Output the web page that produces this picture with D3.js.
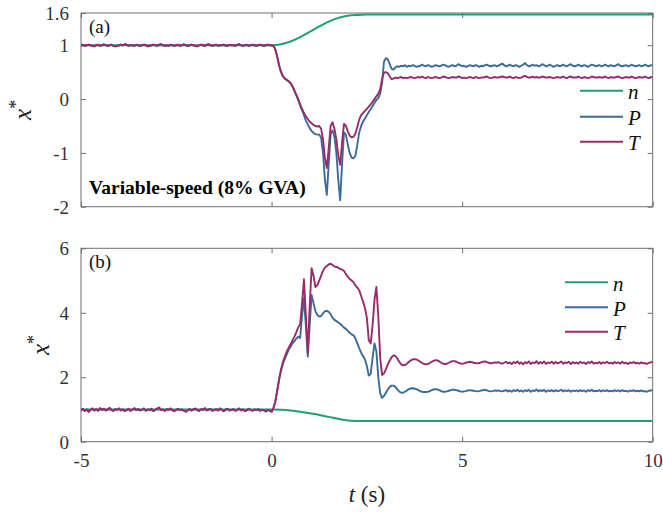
<!DOCTYPE html>
<html lang="en"><head><meta charset="utf-8">
<script src="https://cdn.jsdelivr.net/npm/d3@7"></script>
</head><body style="margin:0;background:#fff"><svg id="c" width="663" height="513" style="display:block;font-family:'Liberation Serif'"></svg>
<script>
// ---------- DATA ----------
const tStart = -5, tStep = 0.05, nSamples = 301;
const xTicks = [-5, 0, 5, 10];
const xTickLabels = ["-5", "0", "5", "10"];
const yTicksA = [-2, -1, 0, 1, 1.6];
const yTickLabelsA = ["-2", "-1", "0", "1", "1.6"];
const yTicksB = [0, 2, 4, 6];
const yTickLabelsB = ["0", "2", "4", "6"];
const seriesNames = ["n", "P", "T"];
const seriesColors = ["#1f9e78", "#3a6b9b", "#972c67"];

const preA = [1.00,1.01,0.99,1.00,1.01,1.00,0.99,0.98,1.00,1.01,
0.99,1.00,1.02,1.00,0.99,1.00,1.01,0.99,0.98,0.99,
1.00,1.01,1.00,1.02,1.01,0.99,1.00,1.00,0.99,1.01,
1.00,0.99,1.00,1.01,1.00,0.98,0.99,1.00,1.01,1.00,
0.99,1.01,1.02,1.00,0.99,1.00,0.99,1.01,1.00,0.99,
1.00,1.01,0.99,1.00,1.02,1.00,0.99,1.00,1.01,1.00,
0.99,0.98,1.00,1.01,1.00,0.99,1.01,1.02,1.00,0.99,
1.00,1.01,0.99,1.00,1.00,1.01,0.99,0.99,1.01,1.00,
1.00,0.99,1.01,1.02,1.00,0.99,1.00,1.01,0.99,1.00,
1.01,1.00,0.99,1.00,1.01,1.00,0.99,1.00,1.01,1.00,1.00];
const PtrA = [0.99,0.92,0.78,0.62,0.50,0.42,0.38,0.35,0.33,0.29,
0.23,0.15,0.07,-0.02,-0.12,-0.21,-0.30,-0.40,-0.47,-0.54,
-0.59,-0.63,-0.65,-0.66,-0.66,-0.72,-1.00,-1.50,-1.78,-1.20,
-0.65,-0.58,-0.70,-1.00,-1.50,-1.88,-1.20,-0.62,-0.66,-0.85,
-1.00,-1.09,-1.10,-1.05,-0.85,-0.62,-0.50,-0.42,-0.36,-0.30,
-0.24,-0.19,-0.13,-0.07,-0.02,0.02,0.10,0.30,0.70,0.76,
0.74,0.65,0.56,0.55,0.59,0.61,0.60,0.62,0.61,0.63];
const TtrA = [0.99,0.92,0.78,0.62,0.50,0.42,0.38,0.36,0.33,0.30,
0.24,0.16,0.08,0.00,-0.10,-0.18,-0.26,-0.32,-0.37,-0.42,
-0.45,-0.48,-0.50,-0.51,-0.50,-0.55,-0.75,-1.10,-1.28,-0.90,
-0.50,-0.43,-0.55,-0.75,-1.05,-1.22,-0.80,-0.46,-0.50,-0.60,
-0.68,-0.71,-0.70,-0.64,-0.52,-0.38,-0.30,-0.26,-0.22,-0.18,
-0.14,-0.10,-0.05,0.00,0.05,0.10,0.18,0.38,0.49,0.50,
0.48,0.42,0.37,0.38,0.40,0.39,0.40,0.41,0.39,0.40];
const PssA = [0.60,0.62,0.61,0.63,0.62,0.60,0.61,0.62,0.64,0.62,
0.61,0.63,0.62,0.60,0.61,0.63,0.62,0.61,0.62,0.64,
0.63,0.61,0.60,0.62,0.63,0.61,0.62,0.65,0.63,0.61,
0.62,0.60,0.61,0.63,0.62,0.61,0.63,0.62,0.60,0.62,
0.61,0.63,0.64,0.62,0.61,0.62,0.63,0.61,0.62,0.64,
0.66,0.63,0.61,0.62,0.64,0.62,0.61,0.63,0.62,0.60,
0.62,0.64,0.67,0.63,0.61,0.62,0.64,0.62,0.63,0.61,
0.62,0.65,0.63,0.61,0.62,0.64,0.62,0.60,0.62,0.63,
0.61,0.62,0.64,0.62,0.61,0.63,0.65,0.62,0.61,0.62,
0.64,0.62,0.61,0.63,0.62,0.60,0.62,0.64,0.63,0.61,
0.62,0.63,0.61,0.62,0.64,0.62,0.61,0.63,0.62,0.61,
0.63,0.65,0.62,0.61,0.62,0.63,0.61,0.62,0.64,0.62,
0.61,0.62,0.63,0.61,0.62,0.64,0.62,0.61,0.63,0.62];
const TssA = [0.39,0.40,0.41,0.40,0.39,0.40,0.41,0.40,0.42,0.40,
0.39,0.41,0.40,0.39,0.40,0.41,0.40,0.39,0.40,0.42,
0.41,0.40,0.39,0.40,0.41,0.40,0.40,0.42,0.41,0.39,
0.40,0.39,0.40,0.41,0.40,0.39,0.41,0.40,0.39,0.40,
0.40,0.41,0.42,0.40,0.39,0.40,0.41,0.40,0.40,0.41,
0.42,0.41,0.40,0.40,0.42,0.40,0.39,0.41,0.40,0.39,
0.40,0.42,0.43,0.41,0.40,0.40,0.42,0.40,0.41,0.40,
0.40,0.42,0.41,0.40,0.40,0.41,0.40,0.39,0.40,0.41,
0.40,0.40,0.42,0.40,0.39,0.41,0.42,0.40,0.40,0.40,
0.42,0.40,0.39,0.41,0.40,0.39,0.40,0.42,0.41,0.40,
0.40,0.41,0.40,0.40,0.42,0.40,0.39,0.41,0.40,0.40,
0.41,0.42,0.40,0.39,0.40,0.41,0.40,0.40,0.42,0.40,
0.39,0.40,0.41,0.40,0.40,0.42,0.40,0.39,0.41,0.40];
const nTimeA = [-5, 0, 0.25, 0.5, 0.75, 1.0, 1.25, 1.5, 1.75, 2.0, 2.25, 2.5, 10];
const nValA  = [1.0, 1.0, 1.02, 1.07, 1.15, 1.25, 1.35, 1.44, 1.51, 1.55, 1.565, 1.57, 1.57];

const preB = [0.98,1.02,0.95,1.00,0.93,0.99,1.03,0.97,1.01,0.96,
1.04,0.99,1.02,0.97,1.00,1.05,0.98,0.96,1.01,0.99,
1.03,0.97,1.00,0.95,0.99,1.02,0.96,1.00,1.04,0.98,
1.01,0.97,0.99,1.03,0.96,1.00,0.98,1.02,0.95,0.99,
1.03,1.06,0.98,1.00,0.96,1.01,0.99,1.03,0.97,0.95,
0.99,1.02,0.98,1.00,0.96,0.93,0.98,1.01,0.97,1.00,
1.03,0.98,0.96,1.01,0.99,1.04,0.97,1.00,1.02,0.96,
0.99,1.01,0.97,1.03,0.98,0.95,1.00,1.02,0.97,0.99,
1.01,0.96,0.99,1.03,0.97,1.00,0.95,0.98,1.02,0.99,
0.96,1.00,0.98,1.01,0.96,0.99,0.97,0.94,0.99,0.96,0.93];
const PtrB = [1.05,1.25,1.60,1.95,2.22,2.42,2.58,2.72,2.85,2.95,
3.05,3.12,3.20,3.26,3.22,3.90,4.46,3.60,2.64,3.60,
4.55,4.30,4.05,3.93,3.88,3.90,3.98,4.05,4.06,4.03,
3.95,3.85,3.78,3.74,3.70,3.66,3.60,3.54,3.50,3.44,
3.38,3.33,3.30,3.20,3.05,2.90,2.76,2.66,2.55,2.35,
2.05,2.10,2.60,3.05,2.80,2.00,1.50,1.36,1.42,1.52,
1.62,1.70,1.74,1.74,1.70,1.62,1.56,1.52,1.52,1.55];
const TtrB = [1.05,1.25,1.60,1.95,2.25,2.48,2.65,2.80,2.92,3.02,
3.15,3.26,3.40,3.55,3.65,4.30,5.04,3.90,2.75,4.20,
5.38,5.15,4.80,4.85,5.00,5.15,5.30,5.40,5.45,5.50,
5.52,5.48,5.44,5.42,5.40,5.36,5.34,5.30,5.20,5.12,
5.05,5.00,4.95,4.85,4.78,4.70,4.52,4.35,4.15,3.85,
3.15,3.05,3.60,4.40,4.80,3.90,2.60,2.07,2.12,2.25,
2.40,2.52,2.62,2.68,2.66,2.58,2.48,2.40,2.37,2.38];
const PssB = [1.59,1.63,1.65,1.66,1.65,1.63,1.60,1.57,1.55,1.54,
1.54,1.55,1.57,1.60,1.62,1.63,1.62,1.60,1.57,1.55,
1.55,1.56,1.58,1.60,1.61,1.61,1.60,1.58,1.56,1.55,
1.56,1.57,1.59,1.60,1.59,1.58,1.57,1.56,1.57,1.59,
1.60,1.61,1.59,1.57,1.56,1.57,1.59,1.58,1.59,1.57,
1.56,1.58,1.60,1.56,1.59,1.55,1.60,1.57,1.61,1.56,
1.59,1.55,1.60,1.57,1.61,1.55,1.59,1.57,1.62,1.56,
1.60,1.57,1.61,1.55,1.59,1.57,1.60,1.56,1.60,1.57,
1.58,1.61,1.56,1.59,1.57,1.60,1.55,1.59,1.57,1.59,
1.56,1.60,1.57,1.59,1.55,1.60,1.57,1.61,1.56,1.58,
1.57,1.60,1.56,1.59,1.57,1.60,1.56,1.58,1.56,1.60,
1.57,1.59,1.56,1.60,1.57,1.58,1.55,1.59,1.57,1.60,
1.56,1.58,1.56,1.59,1.56,1.57,1.55,1.58,1.59,1.60];
const TssB = [2.42,2.47,2.52,2.55,2.56,2.55,2.52,2.48,2.44,2.41,
2.40,2.41,2.44,2.48,2.51,2.53,2.52,2.49,2.45,2.42,
2.41,2.42,2.45,2.48,2.50,2.50,2.48,2.45,2.43,2.42,
2.43,2.45,2.47,2.48,2.47,2.45,2.44,2.43,2.44,2.46,
2.48,2.49,2.47,2.45,2.43,2.44,2.46,2.45,2.47,2.44,
2.42,2.45,2.48,2.43,2.46,2.41,2.47,2.44,2.49,2.42,
2.46,2.40,2.47,2.43,2.49,2.41,2.46,2.44,2.50,2.42,
2.47,2.43,2.49,2.41,2.46,2.44,2.48,2.42,2.47,2.43,
2.45,2.49,2.42,2.46,2.44,2.48,2.41,2.47,2.43,2.46,
2.42,2.48,2.44,2.46,2.41,2.47,2.44,2.49,2.42,2.45,
2.43,2.47,2.42,2.46,2.44,2.48,2.43,2.45,2.42,2.47,
2.44,2.46,2.42,2.48,2.43,2.45,2.41,2.46,2.44,2.47,
2.43,2.45,2.42,2.46,2.43,2.44,2.41,2.45,2.46,2.48];
const nTimeB = [-5, 0, 0.25, 0.5, 0.75, 1.0, 1.25, 1.5, 1.75, 2.0, 2.2, 10];
const nValB  = [1.0, 1.0, 0.99, 0.97, 0.93, 0.88, 0.83, 0.77, 0.71, 0.66, 0.645, 0.645];

// ---------- BUILD ----------
const SERIF = "Liberation Serif";
const sampleTimes = d3.range(nSamples).map(i => tStart + i * tStep);
const PA = preA.concat(PtrA, PssA), TA = preA.concat(TtrA, TssA);
const PB = preB.concat(PtrB, PssB), TB = preB.concat(TtrB, TssB);

const svg = d3.select("#c");
svg.append("style").text("text, tspan { font-family: 'Liberation Serif' !important; }");
const L = 81, R = 652.7;
const xs = d3.scaleLinear().domain([-5, 10]).range([L, R]);
const textCol = "#333", boxCol = "#6e6e6e";

const panels = [
  {id: "a", y0: 13, y1: 206.7, domain: [-2, 1.6], ticks: yTicksA, labels: yTickLabelsA,
   n: [nTimeA, nValA], P: PA, T: TA, showX: false, ylabX: 31, legX: 580, legY: [90.7, 116.7, 141.7]},
  {id: "b", y0: 248.3, y1: 441.7, domain: [0, 6], ticks: yTicksB, labels: yTickLabelsB,
   n: [nTimeB, nValB], P: PB, T: TB, showX: true, ylabX: 49, legX: 565, legY: [282.3, 307.3, 331.7]}
];

function serif(sel) { return sel.attr("font-family", SERIF).style("font-family", SERIF); }

panels.forEach(p => {
  const ys = d3.scaleLinear().domain(p.domain).range([p.y1, p.y0]);
  const g = svg.append("g");
  const clipId = "clip" + p.id;
  svg.append("clipPath").attr("id", clipId).append("rect")
    .attr("x", L).attr("y", p.y0).attr("width", R - L).attr("height", p.y1 - p.y0);

  const ax = (axis, tr) => {
    const a = g.append("g").attr("transform", tr).call(axis);
    serif(a);
    a.select(".domain").remove();
    a.selectAll(".tick line").attr("stroke", boxCol);
    serif(a.selectAll("text").attr("fill", textCol).style("font-size", "19px"));
    return a;
  };
  const fmtY = d => p.labels[p.ticks.indexOf(d)];
  ax(d3.axisLeft(ys).tickValues(p.ticks).tickFormat(fmtY).tickSize(-5).tickPadding(12), `translate(${L},0)`)
    .selectAll("text").attr("dy", "0.34em");
  ax(d3.axisRight(ys).tickValues(p.ticks).tickFormat("").tickSize(-5), `translate(${R},0)`);
  ax(d3.axisTop(xs).tickValues(xTicks).tickFormat("").tickSize(-5), `translate(0,${p.y0})`);
  const bx = ax(d3.axisBottom(xs).tickValues(xTicks)
      .tickFormat(p.showX ? (d => xTickLabels[xTicks.indexOf(d)]) : "").tickSize(-5).tickPadding(22),
      `translate(0,${p.y1})`);
  bx.selectAll("text").attr("dy", "0.2em");

  g.append("rect").attr("x", L).attr("y", p.y0).attr("width", R - L).attr("height", p.y1 - p.y0)
    .attr("fill", "none").attr("stroke", boxCol).attr("stroke-width", 1);

  const lines = g.append("g").attr("clip-path", `url(#${clipId})`);
  const lineN = d3.line().x(d => xs(d[0])).y(d => ys(d[1])).curve(d3.curveMonotoneX);
  lines.append("path").datum(p.n[0].map((t, i) => [t, p.n[1][i]]))
    .attr("d", lineN).attr("fill", "none")
    .attr("stroke", seriesColors[0]).attr("stroke-width", 2);
  const lineL = d3.line().x(d => xs(d[0])).y(d => ys(d[1]));
  [[p.P, seriesColors[1]], [p.T, seriesColors[2]]].forEach(([vals, col]) => {
    lines.append("path").datum(sampleTimes.map((t, i) => [t, vals[i]]))
      .attr("d", lineL).attr("fill", "none").attr("stroke", col)
      .attr("stroke-width", 1.9).attr("stroke-linejoin", "round");
  });

  seriesNames.forEach((nm, i) => {
    g.append("line").attr("x1", p.legX).attr("x2", p.legX + 43)
      .attr("y1", p.legY[i]).attr("y2", p.legY[i]).attr("stroke", seriesColors[i]).attr("stroke-width", 2);
    serif(g.append("text").attr("x", p.legX + 48).attr("y", p.legY[i] + 8.5)
      .style("font-style", "italic").style("font-size", "21px").attr("fill", "#111").text(nm));
  });

  serif(g.append("text").attr("x", 89).attr("y", p.y0 + 20).style("font-size", "19px").attr("fill", "#111")
    .text("(" + p.id + ")"));

  const yl = serif(g.append("text").attr("transform", `translate(${p.ylabX},${(p.y0 + p.y1) / 2}) rotate(-90)`)
    .attr("text-anchor", "middle").attr("fill", "#222"));
  serif(yl.append("tspan").style("font-style", "italic").style("font-size", "25px").text("x"));
  serif(yl.append("tspan").style("font-size", "18px").attr("dy", -9).text("*"));
});

serif(svg.append("text").attr("x", 89).attr("y", 194).style("font-weight", "bold").style("font-size", "19.5px")
  .attr("fill", "#000").text("Variable-speed (8% GVA)"));

const xl = serif(svg.append("text").attr("x", (L + R) / 2).attr("y", 502).attr("text-anchor", "middle")
  .style("font-size", "23px").attr("fill", "#222"));
serif(xl.append("tspan").style("font-style", "italic").text("t"));
serif(xl.append("tspan").text(" (s)"));
</script></body></html>
